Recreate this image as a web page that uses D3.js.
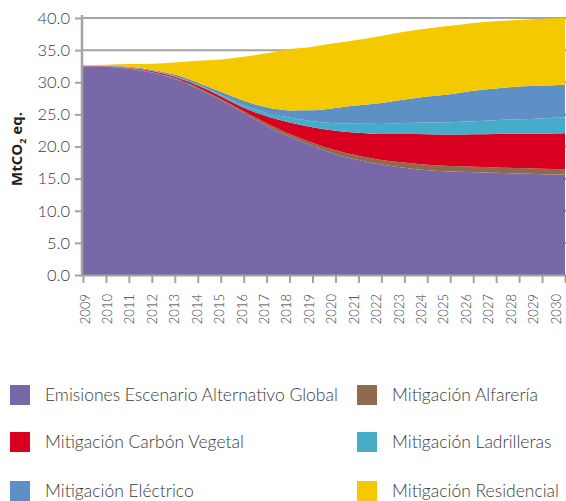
<!DOCTYPE html>
<html>
<head>
<meta charset="utf-8">
<style>
    body { margin: 0; background: #fff; }
    text { font-family: Lato, "Open Sans", sans-serif; fill: #3a3a3a; }
</style>
</head>
<body>
<svg width="566" height="501"></svg>
<script src="https://d3js.org/d3.v7.min.js"></script>
<script>
    var years = [2009, 2010, 2011, 2012, 2013, 2014, 2015, 2016, 2017, 2018, 2019,
                 2020, 2021, 2022, 2023, 2024, 2025, 2026, 2027, 2028, 2029, 2030];
    var emisiones   = [32.5, 32.4, 32.1, 31.5, 30.5, 29.0, 27.2, 25.2, 23.2, 21.5, 20.1,
                       18.8, 17.9, 17.2, 16.7, 16.3, 16.1, 16.0, 15.9, 15.8, 15.7, 15.6];
    var alfareria   = [0.03, 0.05, 0.08, 0.1, 0.15, 0.2, 0.25, 0.3, 0.4, 0.45, 0.5,
                       0.6, 0.65, 0.7, 0.8, 0.85, 0.85, 0.85, 0.85, 0.85, 0.85, 0.85];
    var carbon      = [0.02, 0.05, 0.09, 0.16, 0.2, 0.28, 0.39, 0.54, 1.09, 1.79, 2.41,
                       3.04, 3.58, 4.05, 4.44, 4.75, 4.9, 5.06, 5.21, 5.34, 5.45, 5.6];
    var ladrilleras = [0, 0.02, 0.03, 0.06, 0.09, 0.14, 0.23, 0.39, 0.54, 0.78, 0.93,
                       1.17, 1.4, 1.56, 1.71, 1.82, 1.91, 2.02, 2.13, 2.26, 2.37, 2.49];
    var electrico   = [0, 0.05, 0.1, 0.14, 0.25, 0.31, 0.44, 0.7, 0.86, 1.1, 1.7,
                       2.38, 2.88, 3.27, 3.66, 4.05, 4.39, 4.75, 4.95, 5.09, 5.1, 5.06];
    var residencial = [0.07, 0.17, 0.43, 0.92, 1.89, 3.42, 5.04, 6.84, 8.43, 9.55, 9.9,
                       10.11, 10.22, 10.43, 10.56, 10.6, 10.63, 10.56, 10.47, 10.36, 10.41, 10.43];
    var yTicks = [0, 5, 10, 15, 20, 25, 30, 35, 40];

    var keys = ['emisiones', 'alfareria', 'carbon', 'ladrilleras', 'electrico', 'residencial'];
    var names = ['Emisiones Escenario Alternativo Global', 'Mitigación Alfarería',
                 'Mitigación Carbón Vegetal', 'Mitigación Ladrilleras',
                 'Mitigación Eléctrico', 'Mitigación Residencial'];
    var colors = ['#7868a8', '#8f6a4e', '#d8001e', '#45adca', '#5e90c6', '#f5c900'];

    var table = years.map(function (yr, i) {
        return {year: yr, emisiones: emisiones[i], alfareria: alfareria[i], carbon: carbon[i],
                ladrilleras: ladrilleras[i], electrico: electrico[i], residencial: residencial[i]};
    });

    var svg = d3.select('svg');
    var x = d3.scaleLinear().domain([2009, 2030]).range([83, 565]);
    // year labels sit a little inside the last tick so 2030 stays on the page
    var xl = d3.scaleLinear().domain([2009, 2030]).range([85, 556]);
    var y = d3.scaleLinear().domain([0, 40]).range([275, 18]);
    var grey = '#a3a3a3';

    // grid lines
    svg.append('g').selectAll('line').data(yTicks).enter().append('line')
        .attr('x1', 82).attr('x2', 566)
        .attr('y1', function (d) { return y(d); }).attr('y2', function (d) { return y(d); })
        .attr('stroke', grey).attr('stroke-width', 2);

    // stacked areas
    var series = d3.stack().keys(keys)(table);
    var area = d3.area()
        .x(function (d) { return x(d.data.year); })
        .y0(function (d) { return y(d[0]); })
        .y1(function (d) { return y(d[1]); })
        .curve(d3.curveMonotoneX);
    svg.append('g').selectAll('path').data(series).enter().append('path')
        .attr('d', area)
        .attr('fill', function (d, i) { return colors[i]; });

    // y axis
    var yAxis = svg.append('g').attr('transform', 'translate(82,0)')
        .call(d3.axisLeft(y).tickValues(yTicks).tickFormat(d3.format('.1f')).tickSize(7).tickPadding(5));
    yAxis.select('.domain').remove();
    yAxis.selectAll('line').attr('stroke', grey).attr('stroke-width', 2);
    yAxis.selectAll('text').attr('font-size', 16.5).style('font-family', 'Lato, sans-serif')
        .style('font-weight', 300).attr('fill', '#333');
    svg.append('line').attr('x1', 82).attr('x2', 82).attr('y1', 15).attr('y2', 276)
        .attr('stroke', grey).attr('stroke-width', 2.5);

    // x axis
    var xAxis = svg.append('g').attr('transform', 'translate(0,275)')
        .call(d3.axisBottom(x).tickValues(years).tickFormat('').tickSize(8));
    xAxis.select('.domain').remove();
    xAxis.selectAll('line').attr('stroke', grey).attr('stroke-width', 2);
    svg.append('g').selectAll('text').data(years).enter().append('text')
        .attr('transform', function (d) { return 'translate(' + xl(d) + ',294) rotate(-90)'; })
        .attr('text-anchor', 'end').attr('dy', '0.35em')
        .attr('font-size', 13).style('font-weight', 300)
        .text(function (d) { return d; });
    svg.append('line').attr('x1', 81).attr('x2', 566).attr('y1', 275.5).attr('y2', 275.5)
        .attr('stroke', grey).attr('stroke-width', 2);

    // y label
    var yl = svg.append('text')
        .attr('transform', 'translate(22,149) rotate(-90)')
        .attr('text-anchor', 'middle')
        .attr('font-size', 15).attr('font-weight', 'bold').style('fill', '#222')
        .style('font-family', '"Open Sans", sans-serif');
    yl.append('tspan').text('MtCO');
    yl.append('tspan').text('2').attr('font-size', 9).attr('dy', 4);
    yl.append('tspan').text(' eq.').attr('dy', -4);

    // legend
    var legX = [10, 357];
    var legY = [395, 442, 491];
    var leg = svg.append('g').selectAll('g').data(names).enter().append('g')
        .attr('transform', function (d, i) {
            var row = [0, 0, 1, 1, 2, 2][i];
            var col = i % 2;
            return 'translate(' + legX[col] + ',' + legY[row] + ')';
        });
    leg.append('rect').attr('x', 0).attr('y', -10).attr('width', 20).attr('height', 20)
        .attr('fill', function (d, i) { return colors[i]; });
    leg.append('text').attr('x', 35).attr('y', 0).attr('dy', '0.35em')
        .attr('font-size', 17.5).style('font-weight', 300)
        .text(function (d) { return d; });
</script>
</body>
</html>
